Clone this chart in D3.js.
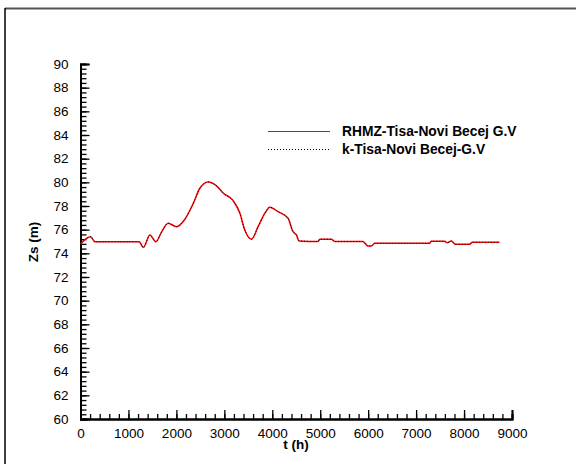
<!DOCTYPE html>
<html><head><meta charset="utf-8">
<script src="https://cdn.jsdelivr.net/npm/d3@7"></script>
<style>body{margin:0;background:#fff}svg{display:block;font-family:"Liberation Sans",Arial,sans-serif}</style>
</head><body>
<script>
const times = [0,212,302,1225,1310,1448,1573,1690,1830,2003,2177,2350,2490,2663,2837,2975,3183,3323,3427,3566,3704,3844,3948,4121,4329,4433,4504,4558,4954,4990,5233,5302,5892,5996,6066,6135,7281,7316,7594,7650,7733,7823,8115,8171,8740];
const rhmz = [74.8,75.4,74.97,74.97,74.5,75.55,74.97,75.8,76.54,76.25,76.88,78.2,79.5,80.03,79.7,79.1,78.45,77.4,75.97,75.19,76.25,77.38,77.9,77.52,76.96,75.83,75.55,75.05,75.0,75.2,75.2,75.0,75.0,74.62,74.62,74.85,74.85,75.02,75.02,74.9,75.04,74.76,74.76,74.93,74.93];
const kSeries = [74.8,75.4,74.97,74.97,74.5,75.55,74.97,75.8,76.54,76.25,76.88,78.2,79.5,80.03,79.7,79.1,78.45,77.4,75.97,75.19,76.25,77.38,77.9,77.52,76.96,75.83,75.55,75.05,75.0,75.2,75.2,75.0,75.0,74.62,74.62,74.85,74.85,75.02,75.02,74.9,75.04,74.76,74.76,74.93,74.93];
const xTicks = [0,1000,2000,3000,4000,5000,6000,7000,8000,9000];
const yTicks = [60,62,64,66,68,70,72,74,76,78,80,82,84,86,88,90];
const seriesNames = ["RHMZ-Tisa-Novi Becej G.V","k-Tisa-Novi Becej-G.V"];

const W=576,H=464;
const svg=d3.select("body").append("svg").attr("width",W).attr("height",H);
// outer frame (top and left visible)
svg.append("line").attr("x1",5).attr("x2",W).attr("y1",8.5).attr("y2",8.5).attr("stroke","#555").attr("stroke-width",2);
svg.append("line").attr("x1",5).attr("x2",5).attr("y1",8).attr("y2",H).attr("stroke","#000").attr("stroke-width",1.5);

const x=d3.scaleLinear().domain([0,9000]).range([80.5,512]);
const y=d3.scaleLinear().domain([60,90]).range([419,64]);

const minorX=d3.range(0,9001,200), minorY=d3.range(60,90.01,0.4);
const gx=svg.append("g").attr("transform","translate(0,419)");
gx.call(d3.axisBottom(x).tickValues(minorX).tickSize(-5).tickFormat(""));
gx.append("g").call(d3.axisBottom(x).tickValues(xTicks).tickSize(-9).tickPadding(9).tickFormat(d3.format("d")));
const gy=svg.append("g").attr("transform","translate(80.5,0)");
gy.call(d3.axisLeft(y).tickValues(minorY).tickSize(-6).tickFormat(""));
gy.append("g").call(d3.axisLeft(y).tickValues(yTicks).tickSize(-9).tickPadding(12).tickFormat(d3.format("d")));
svg.selectAll(".domain").attr("stroke","#000").attr("stroke-width",2);
svg.selectAll(".tick line").attr("stroke","#000").attr("stroke-width",1.3);
svg.selectAll(".tick text").attr("font-size",13.5).attr("fill","#000").attr("font-family","Liberation Sans, Arial, sans-serif");

const line=d3.line().x((d,i)=>x(times[i])).y(d=>y(d)).curve(d3.curveMonotoneX);
svg.append("path").datum(rhmz).attr("d",line).attr("fill","none").attr("stroke","#ff0000").attr("stroke-width",1.5);
svg.append("path").datum(kSeries).attr("d",line).attr("fill","none").attr("stroke","#000").attr("stroke-width",0.9).attr("stroke-dasharray","1,2");

svg.append("text").attr("x",296).attr("y",449).attr("text-anchor","middle").attr("font-size",13.5).attr("font-weight","bold").text("t (h)");
svg.append("text").attr("transform","translate(38,242) rotate(-90)").attr("text-anchor","middle").attr("font-size",13.5).attr("font-weight","bold").text("Zs (m)");

// legend
const lg=svg.append("g");
lg.append("line").attr("x1",268).attr("x2",330).attr("y1",131.5).attr("y2",131.5).attr("stroke","#ff0000").attr("stroke-width",1.2);
lg.append("line").attr("x1",268).attr("x2",330).attr("y1",149.5).attr("y2",149.5).attr("stroke","#000").attr("stroke-width",1).attr("stroke-dasharray","1,2");
lg.append("text").attr("x",342).attr("y",136).attr("font-size",13.8).attr("font-weight","bold").text(seriesNames[0]);
lg.append("text").attr("x",342).attr("y",154).attr("font-size",13.8).attr("font-weight","bold").text(seriesNames[1]);
</script>
</body></html>
